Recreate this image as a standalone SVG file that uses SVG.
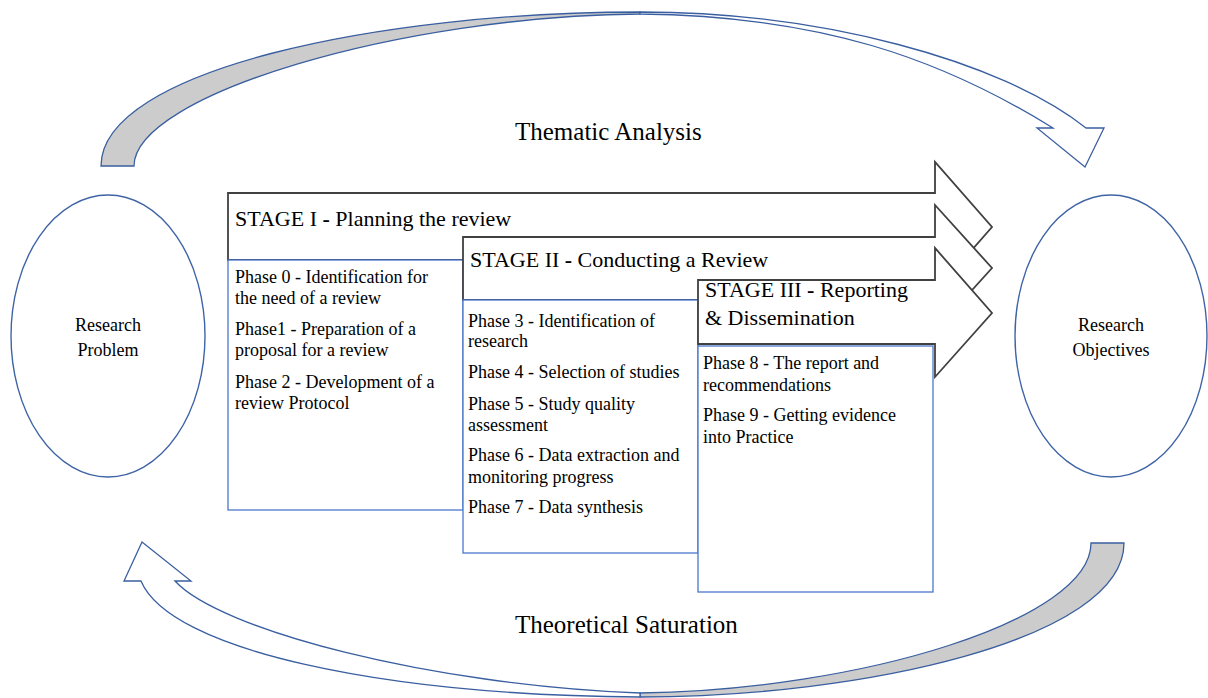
<svg xmlns="http://www.w3.org/2000/svg" width="1208" height="698" viewBox="0 0 1208 698" font-family="'Liberation Serif', 'Times New Roman', serif">
<style>
text{font-family:'Liberation Serif','Times New Roman',serif;fill:#000}
.stage{fill:#fff;stroke:#404040;stroke-width:1.8;stroke-linejoin:miter}
.phase{fill:#fff;stroke:#4a78cc;stroke-width:1.3}
.ell{fill:#fff;stroke:#3f64a6;stroke-width:1.4}
.band{stroke:#3a5fa0;stroke-width:1.3;stroke-linejoin:miter}
.st{font-size:22px}
.ph{font-size:18px}
.el{font-size:18px}
.ti{font-size:25px}
</style>
<rect width="1208" height="698" fill="#fff"/>
<g id="cycle-connectors">
  <path class="band" fill="#cccccc" d="M101,166 C101,70 380,12 640,12 L640,14 C400,16 134,95 134,166 Z"/>
  <path class="band" fill="#fff" d="M640,12 C820,12 1000,60 1086,128 L1104,128 L1085,167 L1037,128 L1053,128 C940,58 820,16 640,14 Z"/>
  <path class="band" fill="#cccccc" d="M1124,543 C1124,640 860,697 640,697 L640,693 C860,690 1091,620 1091,543 Z"/>
  <path class="band" fill="#fff" d="M640,697 C380,695 170,650 141,581 L124,581 L142,542 L191,581 L175,581 C220,630 430,685 640,693 Z"/>
</g>
<g id="label-thematic"><text class="ti" x="515" y="140">Thematic Analysis</text></g>
<g id="label-saturation"><text class="ti" x="515" y="633">Theoretical Saturation</text></g>
<g id="research-problem">
  <ellipse class="ell" cx="108" cy="336" rx="97" ry="141"/>
  <text class="el" x="108" y="331" text-anchor="middle">Research</text>
  <text class="el" x="108" y="356" text-anchor="middle">Problem</text>
</g>
<g id="research-objectives">
  <ellipse class="ell" cx="1111" cy="336" rx="96" ry="141"/>
  <text class="el" x="1111" y="331" text-anchor="middle">Research</text>
  <text class="el" x="1111" y="356" text-anchor="middle">Objectives</text>
</g>
<g id="stage1">
  <polygon class="stage" points="228,193 935,193 935,162 992,227 935,292 935,260 228,260"/>
  <text class="st" x="235" y="226">STAGE I <tspan font-weight="bold">-</tspan> Planning the review</text>
</g>
<g id="phases1">
  <rect class="phase" x="228" y="260" width="235" height="250"/>
  <text class="ph" x="235" y="283">Phase 0 -  Identification for</text>
  <text class="ph" x="235" y="304">the need of a review</text>
  <text class="ph" x="235" y="335">Phase1 - Preparation of a</text>
  <text class="ph" x="235" y="356">proposal for a review</text>
  <text class="ph" x="235" y="388">Phase 2 - Development of a</text>
  <text class="ph" x="235" y="409">review Protocol</text>
</g>
<g id="stage2">
  <polygon class="stage" points="463,237 935,237 935,205 992,268 935,331 935,300 463,300"/>
  <text class="st" x="470" y="267">STAGE II <tspan font-weight="bold">-</tspan> Conducting a Review</text>
</g>
<g id="phases2">
  <rect class="phase" x="463" y="300" width="235" height="253"/>
  <text class="ph" x="468" y="327">Phase 3 - Identification of</text>
  <text class="ph" x="468" y="347">research</text>
  <text class="ph" x="468" y="378">Phase 4 - Selection of studies</text>
  <text class="ph" x="468" y="410">Phase 5 - Study quality</text>
  <text class="ph" x="468" y="431">assessment</text>
  <text class="ph" x="468" y="461">Phase 6 - Data extraction and</text>
  <text class="ph" x="468" y="483">monitoring progress</text>
  <text class="ph" x="468" y="513">Phase 7 - Data synthesis</text>
</g>
<g id="stage3">
  <polygon class="stage" points="698,280 935,280 935,248 992,313 935,377 935,344 698,344"/>
  <text class="st" x="705" y="297">STAGE III <tspan font-weight="bold">-</tspan> Reporting</text>
  <text class="st" x="705" y="325">&amp; Dissemination</text>
</g>
<g id="phases3">
  <rect class="phase" x="698" y="346" width="235" height="246"/>
  <text class="ph" x="703" y="369">Phase 8 - The report and</text>
  <text class="ph" x="703" y="391">recommendations</text>
  <text class="ph" x="703" y="421">Phase 9 - Getting evidence</text>
  <text class="ph" x="703" y="443">into Practice</text>
</g>
</svg>
